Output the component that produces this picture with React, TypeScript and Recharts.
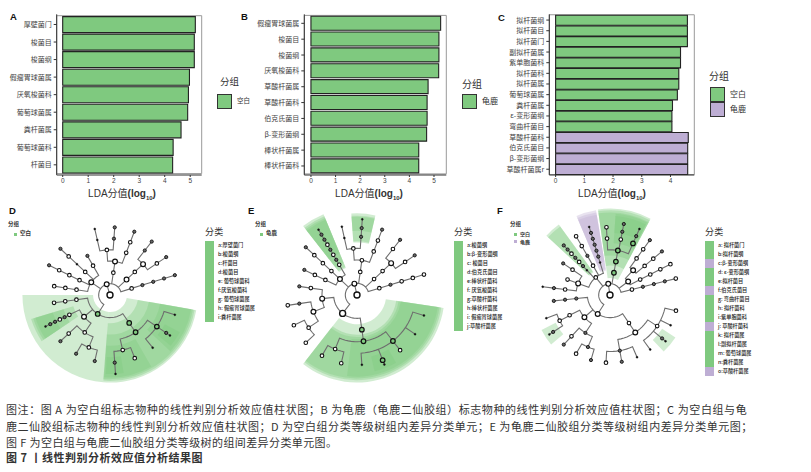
import { Bar, BarChart, Cell, ComposedChart, Line, Pie, PieChart, ReferenceArea, Scatter, XAxis, YAxis } from 'recharts';

const GREEN = '#7FC97F';
const PURPLE = '#BEAED4';
const CJK = '"Noto Sans CJK SC", "Noto Sans", sans-serif';
const SANS = '"Liberation Sans", Arial, sans-serif';

// LDA bars
const categoriesA = ['厚壁菌门', '梭菌目', '梭菌纲', '假瘤胃球菌属', '厌氧梭菌科', '葡萄球菌属', '粪杆菌属', '葡萄球菌科', '杆菌目'];
const valuesA = [5.2, 5.16, 5.16, 4.97, 4.93, 4.9, 4.64, 4.33, 4.31];
const categoriesB = ['假瘤胃球菌属', '梭菌目', '梭菌纲', '厌氧梭菌科', '草酸杆菌属', '草酸杆菌科', '伯克氏菌目', 'β-变形菌纲', '棒状杆菌属', '棒状杆菌科'];
const valuesB = [5.27, 5.2, 5.2, 5.19, 4.76, 4.72, 4.72, 4.7, 4.38, 4.38];
const categoriesC = ['拟杆菌纲', '拟杆菌目', '拟杆菌门', '副拟杆菌属', '紫单胞菌科', '拟杆菌科', '拟杆菌属', '葡萄球菌属', '粪杆菌属', 'ε-变形菌纲', '弯曲杆菌目', '草酸杆菌科', '伯克氏菌目', 'β-变形菌纲', '草酸杆菌属r'];
const valuesC = [4.59, 4.59, 4.59, 4.35, 4.35, 4.29, 4.29, 4.24, 4.07, 4.05, 4.05, 4.62, 4.6, 4.6, 4.6];
const groupsC = ['g', 'g', 'g', 'g', 'g', 'g', 'g', 'g', 'g', 'g', 'g', 'p', 'p', 'p', 'p'];

// cladogram legends
const taxaD = ['a:厚壁菌门', 'b:梭菌纲', 'c:杆菌目', 'd:梭菌目', 'e: 葡萄球菌科', 'f:厌氧梭菌科', 'g: 葡萄球菌属', 'h: 假瘤胃球菌属', 'i:粪杆菌属'];
const taxaE = ['a:梭菌纲', 'b:β-变形菌纲', 'c: 梭菌目', 'd:伯克氏菌目', 'e:棒状杆菌科', 'f: 厌氧梭菌科', 'g:草酸杆菌科', 'h:棒状杆菌属', 'i: 假瘤胃球菌属', 'j:草酸杆菌属'];
const taxaF = ['a: 拟杆菌门', 'b:拟杆菌纲', 'c:β-变形菌纲', 'd: ε-变形菌纲', 'e:拟杆菌目', 'f:伯克氏菌目', 'g: 弯曲杆菌目', 'h: 拟杆菌科', 'i:紫单胞菌科', 'j: 草酸杆菌科', 'k: 拟杆菌属', 'l:副拟杆菌属', 'm: 葡萄球菌属', 'n:粪杆菌属', 'o:草酸杆菌属'];
const taxaGroupsF = ['g', 'g', 'p', 'g', 'g', 'p', 'g', 'g', 'g', 'p', 'g', 'g', 'g', 'g', 'p'];

const captionLines = [
  '图注：图 A 为空白组标志物种的线性判别分析效应值柱状图；B 为龟鹿（龟鹿二仙胶组）标志物种的线性判别分析效应值柱状图；C 为空白组与龟',
  '鹿二仙胶组标志物种的线性判别分析效应值柱状图；D 为空白组分类等级树组内差异分类单元；E 为龟鹿二仙胶组分类等级树组内差异分类单元图；',
  '图 F 为空白组与龟鹿二仙胶组分类等级树的组间差异分类单元图。',
];
const captionTitle = '图 7 丨线性判别分析效应值分析结果图';

// cladograms: [angle in degrees, ring, node kind, children]
type Clade = [number, number, string, Clade[]?];
const arm = (a: number, start: number, kinds: string, kids: Clade[] = [], step = 1): Clade => {
  const k = kinds.split('');
  let node: Clade = [a, start + step * (k.length - 1), k[k.length - 1], kids];
  for (let i = k.length - 2; i >= 0; i--) node = [a, start + step * i, k[i], [node]];
  return node;
};

const treeD: Clade = [0, 0, 'R', [[107, 1, 'B', [
  [146, 2, 'B', [arm(171, 3, 'www'), arm(154, 3, 'wwwd'), arm(137, 3, 'wswd'), arm(120, 3, 'wd')]],
  [81.5, 2, 'w', [[81.5, 3, 'B', [
    [94, 4, 'w', [arm(103, 5, 'ss'), arm(86, 5, 'dd')]],
    arm(69, 4, 'wwd'),
  ]]]],
  arm(43, 2, 'BwB', [arm(52, 5, 'dd'), arm(34, 5, 'wd')]),
  arm(17, 2, 'wdddd'),
  [237, 2, 'G', [
    arm(188, 3, 'www'),
    [220, 3, 'B', [
      arm(206, 4, 'wdwdds', [], 0.47),
      [236, 4, 'w', [
        arm(223, 5, 'wd'),
        [248, 5, 'w', [arm(240, 6, 'd'), arm(257, 6, 'd')]],
      ]],
    ]],
    arm(304.5, 3, 'GG', [
      [283, 5, 'w', [arm(274, 6, 'ds'), arm(291.4, 6, 'w')]],
      [326, 5, 'G', [arm(309, 6, 's'), arm(326, 6, 'ds', [], 0.4), arm(343, 6, 's')]],
    ]),
  ]],
]]]];

const treeE: Clade = [0, 0, 'R', [[103, 1, 'B', [
  [137, 2, 'B', [
    arm(154.5, 3, 'wwd'),
    arm(137, 3, 'wwwd'),
    arm(120.5, 3, 'wdwdwdds', [], 0.5),
  ]],
  [82, 2, 'w', [[82, 3, 'w', [
    [94.5, 4, 'w', [arm(102.5, 5, 'ss'), arm(86, 5, 'dds', [], 0.75)]],
    arm(69, 4, 'wwd'),
  ]]]],
  arm(43, 2, 'wwB', [arm(52, 5, 'wd'), arm(34.5, 5, 'wd')]),
  arm(17, 2, 'wdwww'),
  [232, 2, 'R', [
    [186, 3, 'B', [
      arm(171.5, 4, 'wd'),
      [201, 4, 'B', [
        arm(188.5, 5, 'dw'),
        [214, 5, 'w', [arm(205.6, 6, 'w'), arm(223, 6, 'w')]],
      ]],
    ]],
    arm(278, 3, 'GG', [
      [248, 5, 'w', [arm(240, 6, 'w'), arm(257, 6, 'w')]],
      [308, 5, 'G', [arm(343, 6, 's'), arm(326, 6, 's'), arm(308, 6, 'w'), arm(291.5, 6, 'Gs', [], 0.4), arm(274, 6, 's')]],
    ]),
  ]],
]]]];

const treeF: Clade = [0, 0, 'R', [[99, 1, 'B', [
  [129, 2, 'w', [
    [160, 3, 'B', [arm(146, 4, 'wd'), arm(160, 4, 'w'), arm(173, 4, 'wds')]],
    arm(133, 3, 'sdwdwdd', [], 0.5),
    arm(120, 3, 'wdww'),
    arm(107, 3, 'sddddds', [], 0.55),
  ]],
  arm(80, 2, 'GGG', [arm(93, 5, 'ww'), arm(79, 5, 'wdd', [], 0.7), arm(66, 5, 'Gds', [], 0.7)]),
  [36.5, 2, 'B', [
    [47, 3, 'B', [arm(54, 4, 'wwd'), arm(40, 4, 'wwd')]],
    arm(27, 3, 'wwww'),
  ]],
  arm(14, 2, 'wdddw'),
  [237, 2, 'B', [
    arm(186, 3, 'ddd'),
    [221, 3, 'B', [
      arm(206.6, 4, 'w', [[207, 5, 'w', [arm(200, 6, 's'), arm(213, 6, 'ds', [], 0.4)]]]),
      [237, 4, 'd', [
        arm(227, 5, 'wd'),
        [247, 5, 'd', [arm(240, 6, 'w'), arm(253.7, 6, 'd')]],
      ]],
    ]],
    arm(304, 3, 'wB', [
      [280, 5, 'd', [arm(266.6, 6, 'w'), arm(280, 6, 'd'), arm(293.5, 6, 's')]],
      [326.6, 5, 'w', [arm(306.4, 6, 's'), arm(320.2, 6, 'ds', [], 0.4), arm(333.4, 6, 's'), arm(346.6, 6, 'w')]],
    ]),
  ]],
]]]];

// highlighted clades: [start angle, end angle, inner ring, outer ring, group]
const sectorsD: [number, number, number, number, string][] = [
  [180, 265.5, 1.5, 7.75, 'g'],
  [265.5, 350, 1.5, 7.75, 'g'],
  [265.5, 350, 2.5, 7.6, 'g'],
  [265.5, 350, 3.5, 7.45, 'g'],
  [317, 350, 4.5, 7.3, 'g'],
  [266, 300, 4.5, 7.3, 'g'],
  [197, 214, 3.4, 7.3, 'g'],
  [197, 214, 4.3, 7.1, 'g'],
  [197, 214, 5.3, 6.9, 'g'],
  [267, 280, 5.5, 7, 'g'],
  [320, 332, 5.5, 7, 'g'],
];
const sectorsE: [number, number, number, number, string][] = [
  [232, 351.5, 2.5, 7.5, 'g'],
  [232, 351.5, 3.4, 7.3, 'g'],
  [232, 351.5, 3.6, 7.15, 'g'],
  [263, 351.5, 3.8, 7.0, 'g'],
  [283, 300, 5.4, 6.7, 'g'],
  [112.5, 128, 2.5, 7.5, 'g'],
  [112.5, 128, 2.6, 7.3, 'g'],
  [112.5, 128, 3, 7.15, 'g'],
  [112.5, 128, 3.9, 7.0, 'g'],
  [77, 94, 4.5, 7.0, 'g'],
  [77, 94, 4.6, 6.8, 'g'],
  [77, 94, 5.5, 6.7, 'g'],
];
const sectorsF: [number, number, number, number, string][] = [
  [62, 98, 1.5, 7.65, 'g'],
  [62, 98, 2.6, 7.5, 'g'],
  [62, 98, 3.5, 7.3, 'g'],
  [63, 86, 4.6, 7.2, 'g'],
  [63, 86, 5.5, 7.0, 'g'],
  [99.4, 113, 2.2, 7.6, 'p'],
  [99.4, 113, 2.3, 7.4, 'p'],
  [99.4, 113, 3, 7.2, 'p'],
  [126, 137, 2.5, 7.7, 'g'],
  [126, 137, 2.6, 7.5, 'g'],
  [207, 220, 5.4, 6.8, 'g'],
  [313.5, 327, 5.5, 6.9, 'g'],
];

const nodeStyle: Record<string, { r: number; fill: string; stroke: string; w: number }> = {
  R: { r: 3, fill: '#fff', stroke: '#111', w: 1.4 },
  B: { r: 2.4, fill: '#fff', stroke: '#111', w: 1.2 },
  G: { r: 2.3, fill: GREEN, stroke: '#111', w: 1.2 },
  w: { r: 1.8, fill: '#fff', stroke: '#111', w: 1.1 },
  d: { r: 1.6, fill: '#666', stroke: '#111', w: 0.9 },
  s: { r: 1, fill: '#111', stroke: '#111', w: 0.4 },
};

const flatten = (c: Clade, rows: { x: number; y: number | null }[], nodes: { x: number; y: number; kind: string }[]) => {
  const [a, r, kind, kids = []] = c;
  const pos = (ang: number, rad: number) => ({ x: rad * Math.cos((ang * Math.PI) / 180), y: rad * Math.sin((ang * Math.PI) / 180) });
  kids.forEach((k) => {
    // arc along the parent's ring, then straight out to the child
    const n = Math.max(2, Math.ceil(Math.abs(k[0] - a) / 4));
    if (r > 0) for (let i = 0; i <= n; i++) rows.push(pos(a + ((k[0] - a) * i) / n, r));
    else rows.push(pos(a, 0));
    const end = pos(k[0], k[1]);
    rows.push(end);
    rows.push({ x: end.x, y: null });
    flatten(k, rows, nodes);
  });
  nodes.push({ ...pos(a, r), kind });
};

function NodeMark(props: any) {
  const s = nodeStyle[props.payload.kind];
  return <circle cx={props.cx} cy={props.cy} r={s.r} fill={s.fill} stroke={s.stroke} strokeWidth={s.w} />;
}

function Cladogram({ tree, sectors, cx, cy, ring }: { tree: Clade; sectors: [number, number, number, number, string][]; cx: number; cy: number; ring: number }) {
  const half = 100;
  const rows: { x: number; y: number | null }[] = [];
  const nodes: { x: number; y: number; kind: string }[] = [];
  flatten(tree, rows, nodes);
  const lim = half / ring;
  const box = { position: 'absolute' as const, left: cx - half, top: cy - half };
  return (
    <>
      <div style={box}>
        <PieChart width={half * 2} height={half * 2} margin={{ top: 0, right: 0, bottom: 0, left: 0 }}>
          {sectors.map(([a0, a1, r0, r1, g], i) => (
            <Pie
              key={i}
              data={[{ value: 1 }]}
              dataKey="value"
              cx={half}
              cy={half}
              startAngle={a0}
              endAngle={a1}
              innerRadius={r0 * ring}
              outerRadius={r1 * ring}
              fill={g === 'p' ? PURPLE : GREEN}
              fillOpacity={0.36}
              stroke="none"
              isAnimationActive={false}
            />
          ))}
        </PieChart>
      </div>
      <div style={box}>
        <ComposedChart width={half * 2} height={half * 2} margin={{ top: 0, right: 0, bottom: 0, left: 0 }}>
          <XAxis type="number" dataKey="x" domain={[-lim, lim]} hide />
          <YAxis type="number" dataKey="y" domain={[-lim, lim]} hide />
          <Line data={rows} dataKey="y" stroke="#6e6e6e" strokeWidth={1.1} dot={false} activeDot={false} connectNulls={false} isAnimationActive={false} />
          <Scatter data={nodes} dataKey="y" shape={NodeMark} isAnimationActive={false} />
        </ComposedChart>
      </div>
    </>
  );
}

function LdaBars({ left, names, values, groups, plotLeft, plotRight, domain, ticks, padding, width }: any) {
  const data = names.map((name: string, i: number) => ({ name, value: values[i] }));
  return (
    <div style={{ position: 'absolute', left, top: 0 }}>
      <BarChart width={width} height={200} data={data} layout="vertical" barCategoryGap="5%" margin={{ top: 14.3, right: width - (plotRight - left), bottom: 0, left: 0 }}>
        <ReferenceArea x1={domain[0]} x2={domain[1]} fill="none" stroke="#999" strokeWidth={1} ifOverflow="visible" />
        <XAxis
          type="number"
          domain={domain}
          ticks={ticks}
          height={25}
          tickSize={2}
          tickMargin={1}
          interval={0}
          stroke="#333"
          tick={{ fontSize: 6.5, fill: '#444', fontFamily: SANS }}
        />
        <YAxis
          type="category"
          dataKey="name"
          width={plotLeft - left}
          padding={{ top: padding, bottom: padding }}
          tickSize={3}
          tickMargin={2}
          interval={0}
          stroke="#333"
          tick={{ fontSize: 7, fill: '#444', fontFamily: CJK }}
        />
        <Bar dataKey="value" stroke="#222" strokeWidth={1.1} fill={GREEN} isAnimationActive={false}>
          {groups.map((g: string, i: number) => (
            <Cell key={i} fill={g === 'p' ? PURPLE : GREEN} />
          ))}
        </Bar>
      </BarChart>
    </div>
  );
}

const text = (left: number, top: number, fontSize: number, body: any, extra: any = {}) => (
  <div style={{ position: 'absolute', left, top: top - fontSize * 0.72, fontSize, lineHeight: `${fontSize * 1.44}px`, whiteSpace: 'nowrap', fontFamily: CJK, color: '#333', ...extra }}>{body}</div>
);

const axisTitle = (center: number) => (
  <div style={{ position: 'absolute', left: center - 50, width: 100, top: 186, textAlign: 'center', fontSize: 10, lineHeight: '14px', fontFamily: SANS, color: '#333', whiteSpace: 'nowrap' }}>
    LDA<span style={{ fontFamily: CJK }}>分值</span>
    <b>(log<sub style={{ fontSize: 6, lineHeight: 0 }}>10</sub>)</b>
  </div>
);

const swatch = (left: number, top: number, w: number, h: number, fill: string, stroke = '#333') => (
  <div style={{ position: 'absolute', left, top, width: w, height: h, background: fill, border: `1px solid ${stroke}`, boxSizing: 'border-box' }} />
);

function TaxaKey({ left, items, groups }: { left: number; items: string[]; groups?: string[] }) {
  return (
    <>
      {text(left, 232, 9, '分类', { letterSpacing: 0.3 })}
      {items.map((t, i) => (
        <div key={t}>
          <div style={{ position: 'absolute', left, top: 241 + 9 * i, width: 9, height: 9, background: groups && groups[i] === 'p' ? PURPLE : GREEN }} />
          {text(left + 13, 245.2 + 9 * i, 5.2, t, { fontWeight: 500, color: '#222' })}
        </div>
      ))}
    </>
  );
}

export default function App() {
  return (
    <div style={{ position: 'absolute', left: 0, top: 0, width: 811, height: 472, overflow: 'hidden', background: '#fff' }}>
      <LdaBars left={0} width={210} names={categoriesA} values={valuesA} groups={categoriesA.map(() => 'g')} plotLeft={56.7} plotRight={201.7} domain={[-0.235, 5.45]} ticks={[0, 1, 2, 3, 4, 5]} padding={1.4} />
      <LdaBars left={235} width={220} names={categoriesB} values={valuesB} groups={categoriesB.map(() => 'g')} plotLeft={304.3} plotRight={446.3} domain={[-0.27, 5.5]} ticks={[0, 1, 2, 3, 4, 5]} padding={1.1} />
      <LdaBars left={490} width={210} names={categoriesC} values={valuesC} groups={groupsC} plotLeft={549.3} plotRight={694.3} domain={[-0.22, 4.83]} ticks={[0, 1, 2, 3, 4]} padding={0.45} />

      {axisTitle(122)}
      {axisTitle(369)}
      {axisTitle(612)}

      {text(10, 17, 9.5, 'A', { fontWeight: 700, fontFamily: SANS, color: '#111' })}
      {text(241, 17, 9.5, 'B', { fontWeight: 700, fontFamily: SANS, color: '#111' })}
      {text(498, 18, 9.5, 'C', { fontWeight: 700, fontFamily: SANS, color: '#111' })}
      {text(9, 211, 9.5, 'D', { fontWeight: 700, fontFamily: SANS, color: '#111' })}
      {text(248, 211, 9.5, 'E', { fontWeight: 700, fontFamily: SANS, color: '#111' })}
      {text(497, 211, 9.5, 'F', { fontWeight: 700, fontFamily: SANS, color: '#111' })}

      {text(220, 82, 9.5, '分组')}
      {swatch(217, 94, 15, 15, GREEN)}
      {text(237, 101, 6.5, '空白')}
      {text(462, 84, 10, '分组')}
      {swatch(462, 94, 15, 15, GREEN)}
      {text(482, 101, 8, '龟鹿')}
      {text(709, 76, 10, '分组')}
      {swatch(710, 87, 15, 15, GREEN)}
      {swatch(710, 102, 15, 15, PURPLE)}
      {text(730, 94, 8, '空白')}
      {text(730, 109, 8, '龟鹿')}

      <Cladogram tree={treeD} sectors={sectorsD} cx={110} cy={295} ring={11.3} />
      <Cladogram tree={treeE} sectors={sectorsE} cx={356.7} cy={295} ring={11.67} />
      <Cladogram tree={treeF} sectors={sectorsF} cx={610} cy={295} ring={11.3} />

      {text(8, 225, 5.5, '分组', { fontWeight: 700 })}
      <div style={{ position: 'absolute', left: 14, top: 232.5, width: 3, height: 3, background: GREEN }} />
      {text(20, 234, 5.5, '空白', { fontWeight: 700 })}
      {text(255, 225, 5.5, '分组', { fontWeight: 700 })}
      <div style={{ position: 'absolute', left: 260, top: 232.5, width: 3, height: 3, background: GREEN }} />
      {text(266, 234, 5.5, '龟鹿', { fontWeight: 700 })}
      {text(510, 225, 5.5, '分组', { fontWeight: 700 })}
      <div style={{ position: 'absolute', left: 514, top: 232.5, width: 3, height: 3, background: GREEN }} />
      <div style={{ position: 'absolute', left: 514, top: 239.5, width: 3, height: 3, background: PURPLE }} />
      {text(520, 234, 5, '空白', { fontWeight: 700 })}
      {text(520, 241.5, 5, '龟鹿', { fontWeight: 700 })}

      <TaxaKey left={205} items={taxaD} />
      <TaxaKey left={454} items={taxaE} />
      <TaxaKey left={705} items={taxaF} groups={taxaGroupsF} />

      {text(6, 410, 11, captionLines[0], { letterSpacing: 0.58 })}
      {text(6, 427, 11, captionLines[1], { letterSpacing: 0.52 })}
      {text(6, 443, 11, captionLines[2], { letterSpacing: 0.4 })}
      {text(6, 458, 11, captionTitle, { fontWeight: 700, letterSpacing: 0.5 })}
    </div>
  );
}
